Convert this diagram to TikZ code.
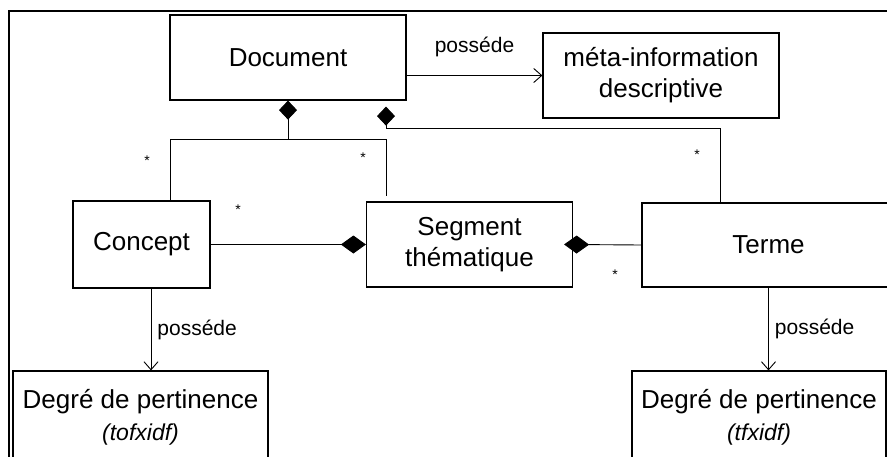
\documentclass[tikz,border=0pt]{standalone}
\usepackage{fontspec}
\setmainfont{Liberation Sans}
\usetikzlibrary{arrows.meta, positioning, calc}

\begin{document}
\begin{tikzpicture}[x=1pt, y=-1pt,
  cbox/.style={draw, line width=1.2pt, align=center, inner sep=0pt, font=\fontsize{26}{31}\selectfont},
  link/.style={line width=0.9pt},
  compo/.style={link, -{Diamond[length=#1, width=18pt]}},
  compo/.default=25pt,
  owns/.style={link, -{Straight Barb[length=8pt, width=14pt]}},
  lbl/.style={inner sep=0pt, font=\fontsize{21}{25}\selectfont},
  mult/.style={inner sep=0pt, font=\fontsize{14}{16}\selectfont}
]
  \useasboundingbox (0,0) rectangle (887,456);
  \clip (0,0) rectangle (887,456);
  \draw[line width=2pt] (9,470) -- (9,11) -- (900,11);

  % classes
  \node[cbox, minimum width=236pt, minimum height=85pt] (doc) at (288,57.5) {Document};
  \node[cbox, minimum width=236pt, minimum height=85pt] (meta) at (661,75.5) {méta-information\\descriptive};
  \node[cbox, minimum width=137pt, minimum height=87pt] (concept) at (141.5,244.5) {Concept};
  \node[cbox, minimum width=206pt, minimum height=85pt] (seg) at (469.5,244.5) {Segment\\thématique};
  \node[cbox, minimum width=253pt, minimum height=84pt] (terme) at (768.5,245) {Terme};
  \node[cbox, minimum width=255pt, minimum height=92pt] (degc) at (140.5,417) {Degré de pertinence\\[1pt]{\itshape\fontsize{23}{28}\selectfont (tofxidf)}};
  \node[cbox, minimum width=254pt, minimum height=92pt] (degt) at (759,417) {Degré de pertinence\\[1pt]{\itshape\fontsize{23}{28}\selectfont (tfxidf)}};

  % compositions
  \coordinate (jd) at (288,139);
  \coordinate (jl) at (170,139);
  \coordinate (jr) at (386,139);
  \coordinate (jt) at (720,128);
  \coordinate (pc) at (151,330);
  \draw[compo=19pt] (jd) -- (doc.south);
  \draw[link, shorten >=5pt] (concept.north -| jl) -- (jl) -- (jr) -- (seg.north -| jr);
  \draw[compo=19pt, shorten >=6pt] (terme.north -| jt) -- (jt) -- (jt -| jr) -- (doc.south -| jr);
  \draw[compo] (concept.east) -- (seg.west);
  \draw[compo, shorten >=-9pt] (terme.west) -- (seg.east);

  % associations
  \draw[owns] (doc.east |- meta.west) -- (meta.west) node[lbl, midway, above=18pt] {posséde};
  \draw[owns] (concept.south -| pc) -- (degc.north -| pc) node[lbl, midway, right=6pt] {posséde};
  \draw[owns] (terme.south) -- (terme.south |- degt.north) node[lbl, midway, right=6pt] {posséde};

  % multiplicities
  \node[mult] (m1) at (147,161) {*};
  \node[mult] (m2) at (363,158) {*};
  \node[mult] (m3) at (238,210) {*};
  \node[mult] (m4) at (697,155) {*};
  \node[mult] (m5) at (615,275) {*};
\end{tikzpicture}
\end{document}
